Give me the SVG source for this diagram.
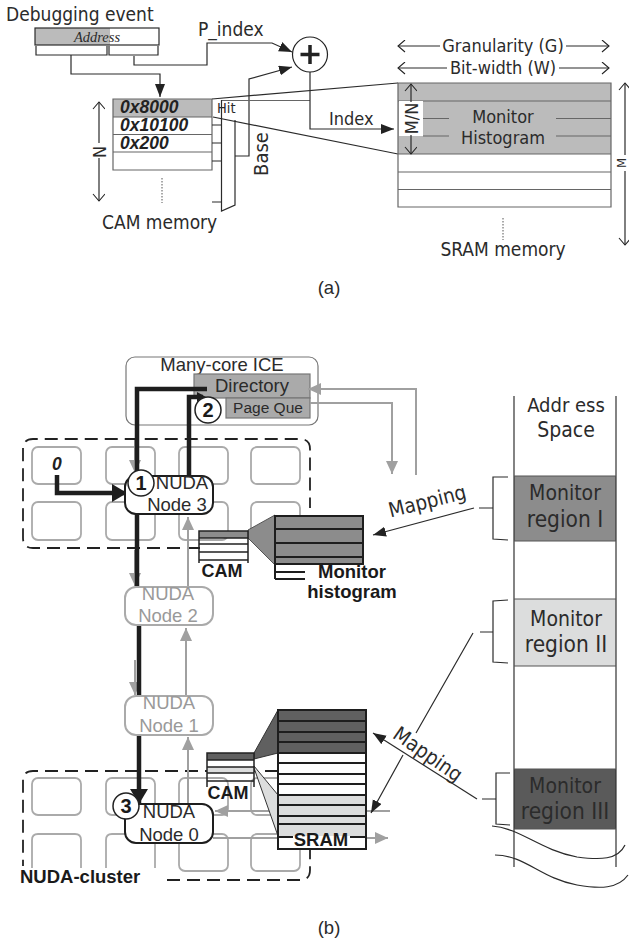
<svg xmlns="http://www.w3.org/2000/svg" width="629" height="942" viewBox="0 0 629 942">
<style>
text{font-family:"DejaVu Sans Condensed","DejaVu Sans",sans-serif;fill:#2b2b2b;font-size:18px}
.c{text-anchor:middle}
.ar{font-family:"Liberation Sans",Arial,sans-serif;font-size:18.500px}
.b{font-family:"Liberation Sans",Arial,sans-serif;font-weight:bold;fill:#1a1a1a;font-size:18.500px}
.bi{font-family:"Liberation Sans",Arial,sans-serif;font-weight:bold;font-style:italic;fill:#222;font-size:17.500px}
.l{fill:none;stroke:#2b2b2b;stroke-width:1.2}
.m{fill:none;stroke:#666;stroke-width:1.2}
.k{fill:none;stroke:#1e1e1e;stroke-width:4.5}
.g{fill:none;stroke:#a0a0a0;stroke-width:2}
.nd{fill:#fff;stroke:#1e1e1e;stroke-width:2}
.ng{fill:#fff;stroke:#aaa;stroke-width:2}
.cell{fill:#fff;stroke:#aaa;stroke-width:1.8}
.dash{fill:none;stroke:#222;stroke-width:1.8;stroke-dasharray:13 7}
.circ{fill:#fff;stroke:#222;stroke-width:1.5}
.rg{font-size:22.500px}
.mo{font-size:21px}
</style>
<defs>
<marker id="ah" markerUnits="userSpaceOnUse" markerWidth="14" markerHeight="12" refX="13" refY="5" orient="auto"><path d="M0,0L13,5L0,10z" fill="#222"/></marker>
<marker id="ag" markerUnits="userSpaceOnUse" markerWidth="14" markerHeight="14" refX="13" refY="6" orient="auto"><path d="M0,0L13,6L0,12z" fill="#a0a0a0"/></marker>
<marker id="ak" markerUnits="userSpaceOnUse" markerWidth="22" markerHeight="22" refX="15" refY="9" orient="auto"><path d="M0,0L15,9L0,18z" fill="#1e1e1e"/></marker>
<marker id="ao" markerUnits="userSpaceOnUse" markerWidth="12" markerHeight="14" refX="9" refY="6" orient="auto"><path d="M2,0L9,6L2,12" fill="none" stroke="#222" stroke-width="1.1"/></marker>
<marker id="as" markerUnits="userSpaceOnUse" markerWidth="12" markerHeight="14" refX="3" refY="6" orient="auto"><path d="M10,0L3,6L10,12" fill="none" stroke="#222" stroke-width="1.1"/></marker>
</defs>

<g id="connectors-a">
<path class="l" d="M71,55V74H160V97" marker-end="url(#ah)"/>
<path class="l" d="M134,56V65H207V43H272L292,52" marker-end="url(#ah)"/>
<path class="l" d="M235,156H249V79L292,67" marker-end="url(#ah)"/>
<path class="l" d="M212,99L398,83"/>
<path class="l" d="M213,117L398,154"/>
<path class="m" d="M222,100.500H310"/>
<path class="l" d="M310,72V129H394" marker-end="url(#ah)"/>
</g>

<g id="debug-event">
<text x="6" y="21" style="font-size:19px">Debugging event</text>
<rect x="35" y="28" width="75" height="17" fill="#bbb"/>
<rect x="35" y="28" width="124" height="17" class="l"/>
<text x="97" y="42" class="c" style="font-family:'Liberation Serif',serif;font-style:italic;font-size:14.500px">Address</text>
<path class="l" d="M36,46V55H107V46M109,46V55H158V46"/>
</g>
<text x="198" y="36" id="p-index" style="font-size:19px">P_index</text>

<g id="adder">
<circle cx="310" cy="54.500" r="17.500" fill="#fff" stroke="#222" stroke-width="1.2"/>
<path d="M310,45V64M300.500,54.500H319.500" stroke="#222" stroke-width="3.500"/>
</g>

<g id="cam-memory">
<rect x="113" y="99" width="99" height="18" fill="#bbb"/>
<path class="m" d="M113,99H212V170H113zM113,117H212M113,134.500H212M113,152H212"/>
<text x="120" y="113" class="bi">0x8000</text>
<text x="120" y="131" class="bi">0x10100</text>
<text x="120" y="149" class="bi">0x200</text>
<path d="M162,178V203" stroke="#555" stroke-dasharray="1.500 1.500" fill="none"/>
<text x="102" y="229" style="font-size:19px">CAM memory</text>
<path class="l" d="M99,102V201" marker-start="url(#as)" marker-end="url(#ao)"/>
<rect x="92" y="143" width="15" height="15" fill="#fff"/>
<text transform="translate(106,152) rotate(-90)" class="c">N</text>
</g>

<g id="mux">
<path class="l" d="M221.500,100V211L235,205V120"/>
<path class="l" d="M212,125H221M212,143H221M212,161H221M212,202H221"/>
<text x="217" y="113" style="font-size:14.500px">Hit</text>
</g>
<text transform="translate(268,154) rotate(-90)" class="c" id="base" style="font-size:20px">Base</text>
<text x="329" y="125" id="index">Index</text>

<g id="sram-memory">
<rect x="398" y="83" width="213" height="71" fill="#bbb"/>
<path class="m" d="M398,83H611V207H398zM398,101H611M398,154H611M398,172H611M398,189.500H611"/>
<path class="m" d="M423,118.500H449M556,118.500H611M423,136H449M556,136H611"/>
<text x="503" y="123" class="c">Monitor</text>
<text x="503" y="144" class="c">Histogram</text>
<rect x="399" y="101" width="24" height="35" fill="#fff"/>
<path class="l" d="M411,84V154" marker-start="url(#as)" marker-end="url(#ao)"/>
<rect x="399" y="102" width="24" height="33" fill="#fff"/>
<text transform="translate(417.500,118.500) rotate(-90)" class="c">M/N</text>
<path class="l" d="M398,46H609" marker-start="url(#as)" marker-end="url(#ao)"/>
<rect x="440" y="36" width="126" height="20" fill="#fff"/>
<text x="503" y="52" class="c">Granularity (G)</text>
<path class="l" d="M398,68H609" marker-start="url(#as)" marker-end="url(#ao)"/>
<rect x="447" y="58" width="112" height="20" fill="#fff"/>
<text x="503" y="74" class="c">Bit-width (W)</text>
<path class="l" d="M625,83V245" marker-start="url(#as)" marker-end="url(#ao)"/>
<rect x="618" y="155" width="11" height="16" fill="#fff"/>
<text transform="translate(626,163) rotate(-90)" class="c" style="font-size:13px">M</text>
<path d="M503,218V240" stroke="#555" stroke-dasharray="1.500 1.500" fill="none"/>
<text x="503" y="256" class="c" style="font-size:19px">SRAM memory</text>
</g>
<text x="329" y="294" class="c ar">(a)</text>

<g id="cluster-top">
<path class="dash" d="M200,548H33Q23,548 23,538V449Q23,439 33,439H300Q310,439 310,449V508"/>
<rect class="cell" x="32" y="447" width="49" height="37" rx="6"/><rect class="cell" x="106" y="447" width="49" height="37" rx="6"/><rect class="cell" x="179" y="447" width="49" height="37" rx="6"/><rect class="cell" x="251" y="447" width="49" height="37" rx="6"/>
<rect class="cell" x="32" y="502" width="49" height="38" rx="6"/><rect class="cell" x="106" y="502" width="49" height="38" rx="6"/><rect class="cell" x="179" y="502" width="49" height="38" rx="6"/><rect class="cell" x="251" y="502" width="49" height="38" rx="6"/>
<text x="52" y="470" class="bi">0</text>
</g>

<g id="cluster-bottom">
<path class="dash" d="M278,771H33Q23,771 23,781V866M167,880H300Q310,880 310,870V850"/>
<rect class="cell" x="32" y="778" width="49" height="37" rx="6"/><rect class="cell" x="106" y="778" width="49" height="37" rx="6"/><rect class="cell" x="179" y="778" width="49" height="37" rx="6"/><rect class="cell" x="251" y="778" width="49" height="37" rx="6"/>
<path class="cell" d="M32,868V840Q32,834 38,834H75Q81,834 81,840V868M106,868V840Q106,834 112,834H149Q155,834 155,840V868"/>
<rect class="cell" x="179" y="834" width="49" height="37" rx="6"/><rect class="cell" x="251" y="834" width="49" height="37" rx="6"/>
<text x="20" y="883" class="b">NUDA-cluster</text>
</g>

<g id="ice">
<rect x="126" y="357" width="192" height="68" rx="9" fill="#fff" stroke="#777" stroke-width="1.200"/>
<text x="222" y="371" class="c ar">Many-core ICE</text>
<rect x="194" y="374" width="116" height="24" fill="#aaa" stroke="#777" stroke-width="1.200"/>
<text x="252" y="392" class="c ar">Directory</text>
<rect x="226" y="398" width="84" height="20" fill="#aaa" stroke="#777" stroke-width="1.200"/>
<text x="268" y="413" class="c ar" style="font-size:15.500px">Page Que</text>
</g>

<g id="connectors-b">
<path class="g" d="M416,475V389H308" marker-end="url(#ag)"/>
<path class="g" d="M310,403H392V474" marker-end="url(#ag)"/>
<path class="g" d="M135,440V473" marker-end="url(#ag)"/>
<path class="g" d="M135,550V586" marker-end="url(#ag)"/>
<path class="g" d="M135,660V695" marker-end="url(#ag)"/>
<path class="g" d="M188,587V517" marker-end="url(#ag)"/>
<path class="g" d="M186,695V628" marker-end="url(#ag)"/>
<path class="g" d="M188,804V737" marker-end="url(#ag)"/>
<path class="g" d="M390,811H215" marker-end="url(#ag)"/>
<path class="g" d="M213,838H388" marker-end="url(#ag)"/>
<path class="k" d="M207,389H137V477"/>
<path class="k" d="M137,514V586"/>
<path class="k" d="M139,625V695"/>
<path class="k" d="M139,735V804" marker-end="url(#ak)"/>
<path class="k" d="M189,476V397H203"/>
<path d="M197,392L206,397L197,402z" fill="#1e1e1e"/>
<path class="k" d="M57,475V493H127" marker-end="url(#ak)"/>
</g>

<g id="node3"><rect class="nd" x="125" y="476" width="88" height="38" rx="11"/><text x="182" y="489" class="c ar">NUDA</text><text x="177" y="511" class="c ar">Node 3</text></g>
<g id="node2"><rect class="ng" x="125" y="587" width="88" height="38" rx="11"/><text x="168" y="600" class="c ar" style="fill:#999">NUDA</text><text x="168" y="622" class="c ar" style="fill:#999">Node 2</text></g>
<g id="node1"><rect class="ng" x="125" y="696" width="88" height="39" rx="11"/><text x="169" y="709" class="c ar" style="fill:#999">NUDA</text><text x="169" y="732" class="c ar" style="fill:#999">Node 1</text></g>
<g id="node0"><rect class="nd" x="125" y="804" width="88" height="39" rx="11"/><text x="169" y="818" class="c ar">NUDA</text><text x="169" y="841" class="c ar">Node 0</text></g>
<g id="badge1"><circle class="circ" cx="141" cy="483" r="13"/><text x="141" y="490" class="c b" style="font-size:20px">1</text></g>
<g id="badge2"><circle class="circ" cx="208" cy="410" r="13"/><text x="208" y="417" class="c b" style="font-size:20px">2</text></g>
<g id="badge3"><circle class="circ" cx="126" cy="806" r="13"/><text x="126" y="813" class="c b" style="font-size:20px">3</text></g>

<g id="cam-top">
<polygon points="248,530 275,515 275,565 248,538" fill="#8c8c8c" stroke="#555"/>
<rect x="199" y="531" width="49" height="7" fill="#8c8c8c"/>
<path d="M199,563V531H248V563M199,538H248M199,544H248M199,552H248M199,560H248" fill="none" stroke="#222" stroke-width="1.500"/>
<text x="222" y="577" class="c b" style="font-size:18px">CAM</text>
</g>
<g id="histogram-top">
<rect x="275" y="516" width="88" height="48" fill="#8c8c8c"/>
<path d="M275,579V516H363V564H275M275,529H363M275,543H363M275,557H363M275,572H305M275,579H305" fill="none" stroke="#1e1e1e" stroke-width="2"/>
<text x="352" y="578" class="c b">Monitor</text>
<text x="352" y="598" class="c b">histogram</text>
</g>

<g id="cam-bottom">
<polygon points="254,753 278,710 278,753 254,759" fill="#606060" stroke="#333"/>
<polygon points="254,766 278,795 278,836 254,768" fill="#dcdddd" stroke="#333"/>
<rect x="207" y="753" width="47" height="7" fill="#606060"/>
<rect x="207" y="767" width="47" height="6" fill="#dcdddd"/>
<path d="M207,787V753H254V787M207,760H254M207,767H254M207,773H254M207,781H254" fill="none" stroke="#222" stroke-width="1.500"/>
<text x="228" y="799" class="c b" style="font-size:18px">CAM</text>
</g>
<g id="sram-bottom">
<rect x="278" y="710" width="88" height="139" fill="#fff"/>
<rect x="278" y="710" width="88" height="43" fill="#606060"/>
<rect x="278" y="795" width="88" height="41" fill="#dcdddd"/>
<path d="M278,710H366V849H278zM278,721H366M278,732H366M278,742H366M278,753H366M278,763H366M278,774H366M278,784H366M278,795H366M278,805H366M278,816H366M278,824H366M278,837H293M350,837H366" fill="none" stroke="#1e1e1e" stroke-width="2"/>
<text x="321" y="845.500" class="c b">SRAM</text>
</g>

<g id="mappings">
<path class="l" d="M474,508L373,535" marker-end="url(#ah)"/>
<text transform="translate(429,508) rotate(-14)" class="c" style="font-size:20.500px">Mapping</text>
<path class="l" d="M477,799L373,733" marker-end="url(#ah)"/>
<path class="l" d="M473,633L416,733M403,755L371,813" marker-end="url(#ah)"/>
<text transform="translate(424,760) rotate(35)" class="c" style="font-size:20.500px">Mapping</text>
</g>

<g id="address-space">
<rect x="514" y="476" width="102" height="65" fill="#8c8c8c"/>
<rect x="514" y="599" width="102" height="67" fill="#dcdddd"/>
<rect x="514" y="769" width="102" height="60" fill="#5a5a5a"/>
<path d="M514,396V867M616,396V867" stroke="#333" stroke-width="1.200" fill="none"/>
<path d="M514,476H616M514,541H616M514,599H616M514,666H616M514,769H616M514,829H616" stroke="#555" stroke-width="1.200" fill="none"/>
<text x="566" y="412" class="c" style="font-size:20px" xml:space="preserve">Addr ess</text>
<text x="566" y="437" class="c" style="font-size:21px">Space</text>
<text x="565" y="500" class="c mo">Monitor</text><text x="565" y="527" class="c rg">region I</text>
<text x="566" y="626" class="c mo">Monitor</text><text x="566" y="652" class="c rg">region II</text>
<text x="565" y="793" class="c mo">Monitor</text><text x="565" y="819" class="c rg">region III</text>
<path class="l" d="M508,477H493V539L508,540M479,508H493M508,600L493,601V662L508,663M480,632H493M510,773H496V824L510,825M482,799H496"/>
<path class="l" d="M492,826C520,828 540,850 577,857C600,860 618,860 625,845M495,855C525,855 540,878 577,885C600,889 618,889 628,875"/>
</g>
<text x="329" y="934" class="c ar">(b)</text>
</svg>
